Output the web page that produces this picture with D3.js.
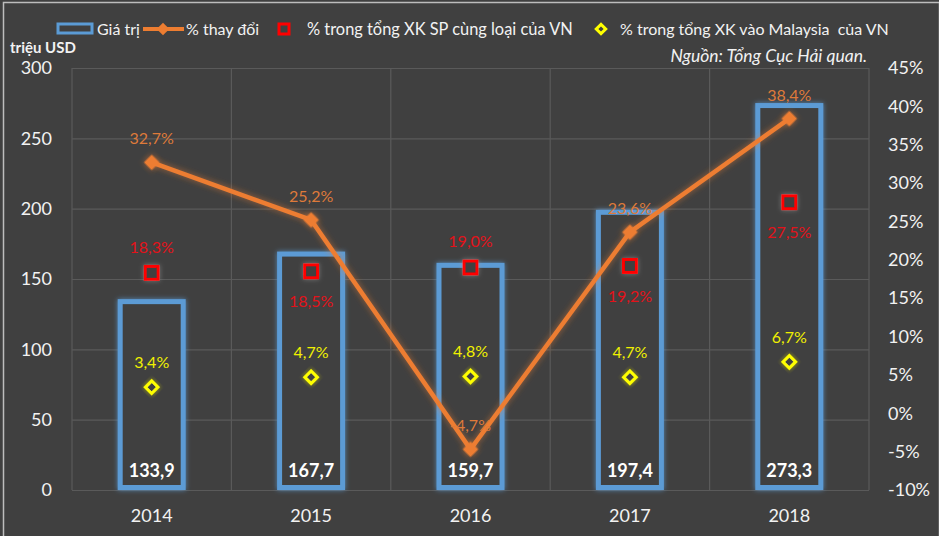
<!DOCTYPE html>
<html><head><meta charset="utf-8">
<script src="https://cdn.jsdelivr.net/npm/d3@7"></script>
<style>
html,body{margin:0;padding:0;background:#404040;}
svg{display:block;font-family:Lato,"Open Sans",sans-serif;}
</style></head>
<body>
<svg id="chart" width="939" height="536"></svg>
<script>
const years = ["2014","2015","2016","2017","2018"];
const giaTri = [133.9,167.7,159.7,197.4,273.3];
const giaTriLabels = ["133,9","167,7","159,7","197,4","273,3"];
const thayDoi = [32.7,25.2,-4.7,23.6,38.4];
const thayDoiLabels = ["32,7%","25,2%","-4,7%","23,6%","38,4%"];
const tyTrongSP = [18.3,18.5,19.0,19.2,27.5];
const tyTrongSPLabels = ["18,3%","18,5%","19,0%","19,2%","27,5%"];
const tyTrongSPPos = ["above","below","above","below","below"];
const tyTrongMY = [3.4,4.7,4.8,4.7,6.7];
const tyTrongMYLabels = ["3,4%","4,7%","4,8%","4,7%","6,7%"];
const leftTicks = [0,50,100,150,200,250,300];
const rightTicks = [-10,-5,0,5,10,15,20,25,30,35,40,45];
const legendItems = ["Giá trị","% thay đổi","% trong tổng XK SP cùng loại của VN","% trong tổng XK vào Malaysia  của VN"];

const svg = d3.select("#chart");
const W = 939, H = 536;
const m = {left:72, right:869, top:68, bottom:490};

const BG = "#404040", GRID = "#5a5a5a";
const BLUE = "#5b9bd5", ORANGE = "#ed7d31", RED = "#ff0000", YELLOW = "#ffff00";

svg.append("rect").attr("x",0).attr("y",0).attr("width",W).attr("height",H).attr("fill",BG);
svg.append("rect").attr("x",3.5).attr("y",2.5).attr("width",W-3).attr("height",H).attr("fill","none").attr("stroke","#bdbdbd").attr("stroke-width",1.5);

const defs = svg.append("defs");
function glow(id, color, std, op){
  const f = defs.append("filter").attr("id",id).attr("x","-50%").attr("y","-50%").attr("width","200%").attr("height","200%");
  f.append("feGaussianBlur").attr("in","SourceAlpha").attr("stdDeviation",std).attr("result","b");
  f.append("feFlood").attr("flood-color",color).attr("flood-opacity",op);
  f.append("feComposite").attr("in2","b").attr("operator","in").attr("result","g");
  const mg = f.append("feMerge");
  mg.append("feMergeNode").attr("in","g");
  mg.append("feMergeNode").attr("in","SourceGraphic");
}
glow("gBlue", BLUE, 2.5, 0.8);
glow("gOrange", ORANGE, 3, 0.6);
glow("gGray", "#9a9a9a", 2.5, 0.6);
glow("gYellow", "#c8c800", 2.5, 0.7);

const x = d3.scaleBand().domain(years).range([m.left, m.right]).paddingInner(0).paddingOuter(0);
const yL = d3.scaleLinear().domain([0,300]).range([m.bottom, m.top]);
const yR = d3.scaleLinear().domain([-10,45]).range([m.bottom, m.top]);
const cx = d => x(d) + x.bandwidth()/2;

const gy = d3.axisLeft(yL).tickValues(leftTicks).tickSize(-(m.right-m.left)).tickFormat("");
svg.append("g").attr("transform",`translate(${m.left},0)`).call(gy)
  .call(g=>g.select(".domain").remove())
  .call(g=>g.selectAll("line").attr("stroke",GRID).attr("stroke-width",1.2));
const bounds = years.map(d=>x(d)).concat([m.right]);
svg.append("g").selectAll("line").data(bounds).join("line")
  .attr("x1",d=>d).attr("x2",d=>d).attr("y1",m.top).attr("y2",m.bottom)
  .attr("stroke",GRID).attr("stroke-width",1.2);

const axL = svg.append("g").attr("transform",`translate(${m.left},0)`)
  .call(d3.axisLeft(yL).tickValues(leftTicks).tickSize(0).tickPadding(20));
axL.select(".domain").remove();
axL.selectAll("text").attr("fill","#f2f2f2").attr("font-size",18).attr("font-family","Lato, sans-serif");

const axR = svg.append("g").attr("transform",`translate(${m.right},0)`)
  .call(d3.axisRight(yR).tickValues(rightTicks).tickSize(0).tickPadding(19).tickFormat(d=>d+"%"));
axR.select(".domain").remove();
axR.selectAll("text").attr("fill","#f2f2f2").attr("font-size",18).attr("font-family","Lato, sans-serif");

const axB = svg.append("g").attr("transform",`translate(0,${m.bottom})`)
  .call(d3.axisBottom(x).tickSize(0).tickPadding(19));
axB.select(".domain").remove();
axB.selectAll("text").attr("fill","#f2f2f2").attr("font-size",18).attr("font-family","Lato, sans-serif");

const bw = 63;
svg.append("g").selectAll("rect").data(years).join("rect")
  .attr("x",d=>cx(d)-bw/2).attr("width",bw)
  .attr("y",(d,i)=>yL(giaTri[i])).attr("height",(d,i)=>yL(0)-yL(giaTri[i])-2.5)
  .attr("fill",BG).attr("stroke",BLUE).attr("stroke-width",5)
  .attr("filter","url(#gBlue)");
svg.append("g").selectAll("text").data(years).join("text")
  .attr("x",cx).attr("y",477).attr("text-anchor","middle")
  .attr("fill","#ffffff").attr("font-weight","bold").attr("font-size",18)
  .text((d,i)=>giaTriLabels[i]);

const line = d3.line().x((d,i)=>cx(years[i])).y(d=>yR(d));
svg.append("path").datum(thayDoi).attr("d",line).attr("fill","none")
  .attr("stroke",ORANGE).attr("stroke-width",4.5).attr("filter","url(#gOrange)");
svg.append("g").selectAll("path").data(thayDoi).join("path")
  .attr("d",d3.symbol(d3.symbolSquare, 120))
  .attr("transform",(d,i)=>`translate(${cx(years[i])},${yR(d)}) rotate(45)`)
  .attr("fill",ORANGE).attr("filter","url(#gOrange)");
svg.append("g").selectAll("text").data(thayDoi).join("text")
  .attr("x",(d,i)=>cx(years[i])).attr("y",d=>yR(d)-18).attr("text-anchor","middle")
  .attr("fill","#de7a3a").attr("font-size",16).text((d,i)=>thayDoiLabels[i]);

svg.append("g").selectAll("rect").data(tyTrongSP).join("rect")
  .attr("x",(d,i)=>cx(years[i])-6.5).attr("y",d=>yR(d)-6.5).attr("width",13).attr("height",13)
  .attr("fill",BG).attr("stroke",RED).attr("stroke-width",3).attr("filter","url(#gGray)");
svg.append("g").selectAll("text").data(tyTrongSP).join("text")
  .attr("x",(d,i)=>cx(years[i])).attr("y",(d,i)=>tyTrongSPPos[i]==="above"? yR(d)-20 : yR(d)+36)
  .attr("text-anchor","middle").attr("fill","#e3121a").attr("font-size",16)
  .text((d,i)=>tyTrongSPLabels[i]);

svg.append("g").selectAll("path").data(tyTrongMY).join("path")
  .attr("d",d3.symbol(d3.symbolSquare, 80))
  .attr("transform",(d,i)=>`translate(${cx(years[i])},${yR(d)}) rotate(45)`)
  .attr("fill",BG).attr("stroke",YELLOW).attr("stroke-width",3).attr("filter","url(#gYellow)");
svg.append("g").selectAll("text").data(tyTrongMY).join("text")
  .attr("x",(d,i)=>cx(years[i])).attr("y",d=>yR(d)-19).attr("text-anchor","middle")
  .attr("fill","#f0f000").attr("font-size",16).text((d,i)=>tyTrongMYLabels[i]);

svg.append("text").attr("x",10).attr("y",53).attr("fill","#f2f2f2").attr("font-weight","bold")
  .attr("font-size",15).text("triệu USD");
svg.append("text").attr("x",867).attr("y",62).attr("text-anchor","end").attr("fill","#f2f2f2")
  .attr("font-style","italic").attr("font-size",17.5).text("Nguồn: Tổng Cục Hải quan.");

const lg = svg.append("g").attr("font-size",16).attr("fill","#f2f2f2");
const ly = 29;
lg.append("rect").attr("x",58).attr("y",ly-5).attr("width",34).attr("height",9)
  .attr("fill",BG).attr("stroke",BLUE).attr("stroke-width",3);
lg.append("text").attr("x",97).attr("y",ly+6).text(legendItems[0]);
lg.append("line").attr("x1",143).attr("x2",184).attr("y1",ly).attr("y2",ly).attr("stroke",ORANGE).attr("stroke-width",4);
lg.append("path").attr("d",d3.symbol(d3.symbolSquare,80)).attr("transform",`translate(163,${ly}) rotate(45)`).attr("fill",ORANGE);
lg.append("text").attr("x",186).attr("y",ly+6).text(legendItems[1]);
lg.append("rect").attr("x",279).attr("y",ly-5).attr("width",10).attr("height",10)
  .attr("fill",BG).attr("stroke",RED).attr("stroke-width",3);
lg.append("text").attr("x",307).attr("y",ly+6).attr("font-size",16.4).text(legendItems[2]);
lg.append("path").attr("d",d3.symbol(d3.symbolSquare,45)).attr("transform",`translate(601,${ly}) rotate(45)`)
  .attr("fill",BG).attr("stroke",YELLOW).attr("stroke-width",3);
lg.append("text").attr("x",620).attr("y",ly+6).attr("xml:space","preserve").text(legendItems[3]);
</script>
</body></html>
